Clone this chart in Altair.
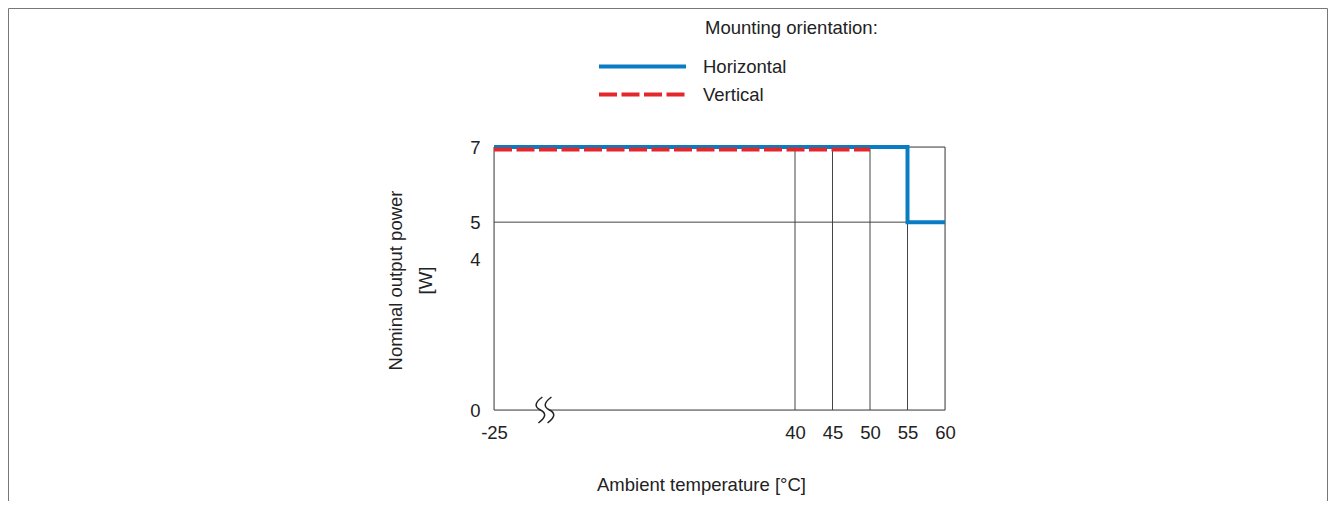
import altair as alt
import pandas as pd

# ---- data ----
series = ["Horizontal", "Vertical"]
colors = ["#0a7cc4", "#e3272a"]
dashes = [[1, 0], [18, 4.5]]

temp_h = [-25, 55, 55, 60]
power_h = [7, 7, 5, 5]
temp_v = [-25, 50]
power_v = [7, 7]

x_ticks = [-25, 40, 45, 50, 55, 60]
y_ticks = [0, 4, 5, 7]
grid_x = [-25, 40, 45, 50, 55, 60]
grid_y = [0, 5, 7]
break_t = [-14]
break_p = [0]
legend_title = "Mounting orientation:"

FONT = "Liberation Sans"
TXT = "#222222"
FS = 18.5

rows = []
for i, (t, p) in enumerate(zip(temp_h, power_h)):
    rows.append({"series": "Horizontal", "t": t, "p": p, "i": i})
for i, (t, p) in enumerate(zip(temp_v, power_v)):
    rows.append({"series": "Vertical", "t": t, "p": p, "i": i})
lines_df = pd.DataFrame(rows)
gx_df = pd.DataFrame({"t": grid_x})
gy_df = pd.DataFrame({"p": grid_y})
brk_df = pd.DataFrame({"t": break_t, "p": break_p})
one_df = pd.DataFrame({"label": [legend_title]})

xscale = alt.Scale(domain=[-25, 40, 60], range=[0, 301, 451], nice=False, zero=False)
yscale = alt.Scale(domain=[0, 7], nice=False, zero=False)

xaxis = alt.Axis(values=x_ticks, labelExpr="'' + datum.value", ticks=False, domain=False,
                 grid=False, labelPadding=13, labelFontSize=FS, labelFont=FONT, labelColor=TXT,
                 title="Ambient temperature [°C]", titleFont=FONT, titleFontSize=FS,
                 titleFontWeight="normal", titleColor=TXT, titleX=207, titleY=74,
                 titleAlign="center", titleBaseline="middle", labelFlush=False, labelOverlap=False)
yaxis = alt.Axis(values=y_ticks, labelExpr="'' + datum.value", ticks=False, domain=False,
                 grid=False, labelPadding=14, labelFontSize=FS, labelFont=FONT, labelColor=TXT,
                 title=["Nominal output power", "[W]"], titleFont=FONT, titleFontSize=FS,
                 titleFontWeight="normal", titleColor=TXT, titleAngle=270, titleX=-99, titleY=133,
                 titleAlign="center", titleBaseline="middle", titleLineHeight=30,
                 labelFlush=False, labelOverlap=False)

leg = alt.Legend(orient="none", legendX=132, legendY=-97, title=None,
                 symbolType="M -3,0 L 3,0", symbolSize=841, symbolStrokeWidth=4,
                 symbolFillColor="transparent",
                 labelFontSize=FS, labelFont=FONT,
                 labelColor=TXT, labelOffset=44, rowPadding=2, padding=0, direction="vertical")

color = alt.Color("series:N", scale=alt.Scale(domain=series, range=colors), legend=leg)
dash = alt.StrokeDash("series:N", scale=alt.Scale(domain=series, range=dashes), legend=leg)

frame = alt.Chart(one_df).mark_rect(fillOpacity=0, stroke="#777777", strokeWidth=1).encode(
    x=alt.value(-485.5), x2=alt.value(833.5), y=alt.value(-138.5), y2=alt.value(400)
)

head = alt.Chart(one_df).mark_text(align="left", baseline="alphabetic", font=FONT,
                                   fontSize=FS, color=TXT).encode(
    text="label:N", x=alt.value(211), y=alt.value(-113)
)

vrules = alt.Chart(gx_df).mark_rule(color="#444444", strokeWidth=1).encode(
    x=alt.X("t:Q", scale=xscale, axis=xaxis),
    y=alt.Y(datum=0, scale=yscale, axis=yaxis),
    y2=alt.Y2(datum=7),
)
hrules = alt.Chart(gy_df).mark_rule(color="#444444", strokeWidth=1).encode(
    y=alt.Y("p:Q", scale=yscale, axis=yaxis),
    x=alt.X(datum=-25, scale=xscale, axis=xaxis),
    x2=alt.X2(datum=60),
)

blue = alt.Chart(lines_df).transform_filter(alt.datum.series == "Horizontal").mark_line(
    strokeWidth=4, strokeJoin="miter", strokeCap="butt"
).encode(
    x=alt.X("t:Q", scale=xscale, axis=xaxis),
    y=alt.Y("p:Q", scale=yscale, axis=yaxis),
    color=color, strokeDash=dash, order="i:Q",
)
red = alt.Chart(lines_df).transform_filter(alt.datum.series == "Vertical").mark_line(
    strokeWidth=4, strokeJoin="miter", strokeCap="butt", yOffset=2.5
).encode(
    x=alt.X("t:Q", scale=xscale, axis=xaxis),
    y=alt.Y("p:Q", scale=yscale, axis=yaxis),
    color=color, strokeDash=dash, order="i:Q",
)

cover = alt.Chart(brk_df).mark_point(shape="square", filled=True, color="white", opacity=1,
                                     size=81, strokeWidth=0).encode(
    x=alt.X("t:Q", scale=xscale, axis=xaxis),
    y=alt.Y("p:Q", scale=yscale, axis=yaxis),
)
squig_path = ("M -0.2,-1 C -0.81,-0.54 -0.81,-0.23 -0.35,0 C 0.11,0.23 0.11,0.54 -0.5,1 "
              "M 0.5,-1 C -0.11,-0.54 -0.11,-0.23 0.35,0 C 0.81,0.23 0.81,0.54 0.2,1")
squig = alt.Chart(brk_df).mark_point(shape=squig_path, filled=False, color=TXT, opacity=1,
                                     size=676, strokeWidth=1.5).encode(
    x=alt.X("t:Q", scale=xscale, axis=xaxis),
    y=alt.Y("p:Q", scale=yscale, axis=yaxis),
)

chart = alt.layer(frame, head, vrules, hrules, blue, red, cover, squig).properties(
    width=451, height=263,
    autosize=alt.AutoSizeParams(type="none"),
    padding={"left": 486, "top": 139, "right": 383, "bottom": 91},
).configure_view(stroke=None).configure(background="white")

chart.save("out.html", embed_options={"renderer": "svg", "actions": False})
